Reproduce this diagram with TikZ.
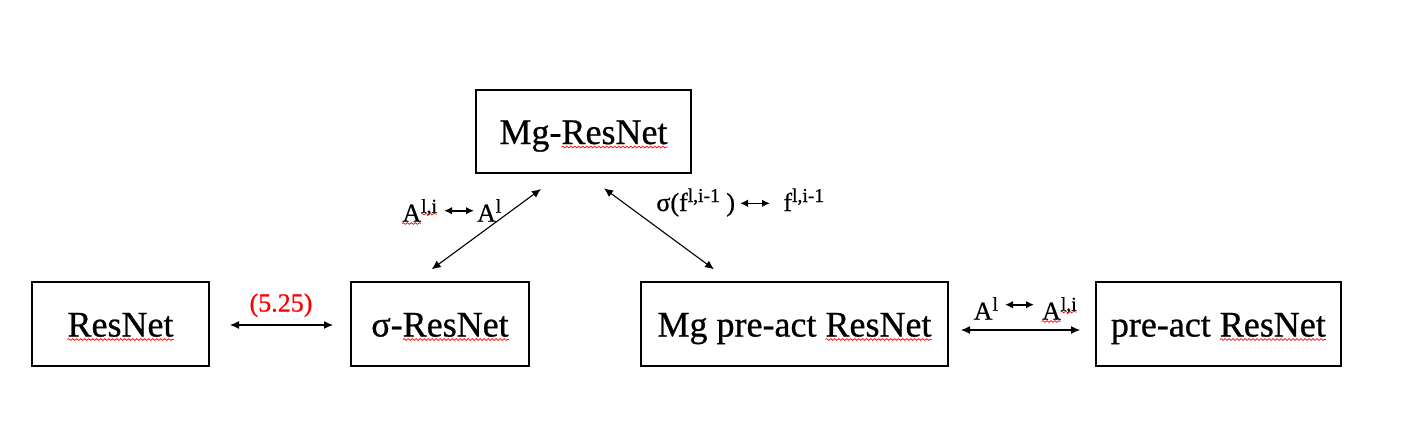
\documentclass[tikz,border=0pt]{standalone}
\usepackage{fontspec}
\setmainfont[FakeBold=0.7]{Liberation Serif}
\usetikzlibrary{arrows.meta,decorations.pathmorphing}
\newcommand\supx[1]{\raisebox{4.5pt}{\fontsize{9.8}{10}\selectfont #1}}
\tikzset{
  box/.style={draw, line width=0.9pt, inner sep=0pt, minimum height=42pt,
    text height=12.5pt, text depth=0pt, font=\fontsize{18}{21}\selectfont},
  lbl/.style={anchor=base west, inner sep=0pt, font=\fontsize{13}{15}\selectfont},
  conn/.style={{Latex[length=4.5pt,width=4pt]}-{Latex[length=4.5pt,width=4pt]}, line width=0.55pt},
  smallconn/.style={{Latex[length=4pt,width=3.8pt]}-{Latex[length=4pt,width=3.8pt]}, line width=0.8pt},
  squig/.style={red, line width=0.35pt, decorate,
    decoration={snake, amplitude=0.45pt, segment length=2pt}}
}
\begin{document}
\begin{tikzpicture}[x=0.5pt, y=-0.5pt]
\useasboundingbox (0,0) rectangle (1406,428);
% boxes
\node[box, minimum width=88.5pt] (resnet) at (120.5,324) {ResNet};
\node[box, minimum width=88.8pt] (sigma) at (440,324) {σ-ResNet};
\node[box, minimum width=107.5pt, minimum height=41.5pt] (mg) at (583.5,131.5) {Mg-ResNet};
\node[box, minimum width=153.8pt] (mgpre) at (794.5,324) {Mg pre-act ResNet};
\node[box, minimum width=122.7pt] (pre) at (1218.3,324) {pre-act ResNet};
% spell-check squiggles
\draw[squig] (67.5,339.5) -- (173.5,339.5);
\draw[squig] (402.9,339.5) -- (508.9,339.5);
\draw[squig] (561.5,147) -- (667.5,147);
\draw[squig] (825.5,339.5) -- (931.5,339.5);
\draw[squig] (1219.8,339.5) -- (1325.8,339.5);
% labels
\node[lbl, red, anchor=base] (eq) at (281,311.5) {(5.25)};
\node[lbl] (tl1) at (402,221.7) {A\supx{l,i}};
\node[lbl] (tl2) at (476.7,221.7) {A\supx{l}};
\node[lbl] (tr1) at (656,211) {σ(f\supx{l,i-1} )};
\node[lbl] (tr2) at (783,211) {f\supx{l,i-1}};
\node[lbl] (br1) at (973.3,319.7) {A\supx{l}};
\node[lbl] (br2) at (1041.7,319.7) {A\supx{l,i}};
\draw[squig] (402,223.5) -- (420.8,223.5);
\draw[squig] (420.8,214) -- (437,214);
\draw[squig] (1041.7,321.5) -- (1060.5,321.5);
\draw[squig] (1060.5,312) -- (1076.7,312);
% connector end points
\coordinate (rs1) at (230,325);
\coordinate (rs2) at (333,325);
\coordinate (sm1) at (431.7,269.3);
\coordinate (sm2) at (541,189);
\coordinate (mm1) at (604,188.3);
\coordinate (mm2) at (714,269.3);
\coordinate (mp1) at (961,330);
\coordinate (mp2) at (1080,330);
\coordinate (k1a) at (444,210.7);
\coordinate (k1b) at (474,210.7);
\coordinate (k2a) at (740,203.3);
\coordinate (k2b) at (770,203.3);
\coordinate (k3a) at (1005,304.7);
\coordinate (k3b) at (1034,304.7);
% connectors
\draw[conn] (rs1) -- (rs2);
\draw[conn] (sm1) -- (sm2);
\draw[conn] (mm1) -- (mm2);
\draw[conn] (mp1) -- (mp2);
\draw[smallconn] (k1a) -- (k1b);
\draw[smallconn] (k2a) -- (k2b);
\draw[smallconn] (k3a) -- (k3b);
\end{tikzpicture}
\end{document}
